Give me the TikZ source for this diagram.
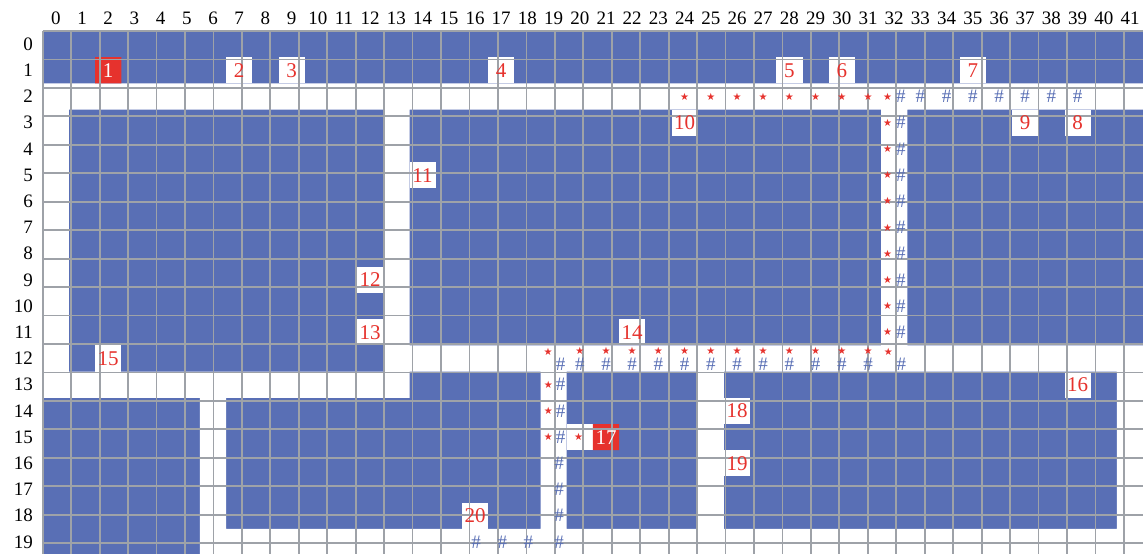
\documentclass[tikz,border=0pt]{standalone}
\usepackage{fontspec}
\setmainfont{Liberation Serif}
\newfontfamily\symfont{DejaVu Sans}
\definecolor{cellblue}{RGB}{89,111,181}
\definecolor{cellred}{RGB}{230,50,45}
\definecolor{gridgray}{RGB}{158,162,168}
\begin{document}
\begin{tikzpicture}[x=26.2pt,y=-26.2pt,
  hdr/.style={font=\fontsize{19}{20}\selectfont, text=black, inner sep=0pt},
  num/.style={font=\fontsize{21}{22}\selectfont, text=cellred, inner sep=0pt},
  rnum/.style={font=\fontsize{21}{22}\selectfont, text=white, inner sep=0pt},
  starmark/.style={font=\symfont\fontsize{10}{10}\selectfont, text=cellred, inner sep=0pt},
  hashmark/.style={font=\fontsize{19}{20}\selectfont, text=cellblue, inner sep=0pt},
  gridline/.style={draw=gridgray, line width=1.8pt}
]
\useasboundingbox (-1.6298,-1.1832) rectangle (42.187,19.924);
\fill[white] (-1.6298,-1.1832) rectangle (42.187,19.924);
% blue base
\fill[cellblue] (0,0) rectangle (42,20);
% white (free) cells
\fill[white]
  (0,2) rectangle (42,3)
  (0,3) rectangle (1,14)
  (13,3) rectangle (14,14)
  (32,3) rectangle (33,12)
  (13,12) rectangle (42,13)
  (0,13) rectangle (14,14)
  (19,13) rectangle (20,20)
  (25,13) rectangle (26,20)
  (41,12) rectangle (42,20)
  (6,14) rectangle (7,20)
  (6,19) rectangle (42,20);
\foreach \c/\r in {7/1,9/1,17/1,28/1,30/1,35/1,39/3,37/3,24/3,14/5,12/9,12/11,22/11,2/12,39/13,26/14,26/16,16/18,20/15}
  \fill[white] (\c,\r) rectangle ++(1,1);
% red cells
\fill[cellred] (2,1) rectangle ++(1,1) (21,15) rectangle ++(1,1);
% grid
\draw[gridline] (0,0) grid (42,20);
% headers
\foreach \c in {0,...,41}
  \node[hdr] (col\c) at (\c+0.5,-0.477) {\c};
\foreach \r in {0,...,19}
  \node[hdr, anchor=east] (row\r) at (-0.37,\r+0.5) {\r};
% numbered cells
\foreach \c/\r/\t in {7/1/2,9/1/3,17/1/4,28/1/5,30/1/6,35/1/7,39/3/8,37/3/9,24/3/10,14/5/11,12/9/12,12/11/13,22/11/14,2/12/15,39/13/16,26/14/18,26/16/19,16/18/20}
  \node[num] (n\t) at (\c+0.5,\r+0.5) {\t};
\node[rnum] (n1) at (2.5,1.5) {1};
\node[rnum] (n17) at (21.5,15.5) {17};
% row 2 marks
\foreach \c in {24,...,31}
  \node[starmark] (sa\c) at (\c+0.5,2.5) {★};
\foreach \c in {33,...,39}
  \node[hashmark] (ha\c) at (\c+0.5,2.5) {\#};
% column 32 rows 2..11
\foreach \r in {2,...,11}{
  \node[starmark] (sb\r) at (32.25,\r+0.5) {★};
  \node[hashmark] (hb\r) at (32.75,\r+0.5) {\#};
}
% row 12
\node[starmark] (sc19) at (19.29,12.23) {★};
\node[hashmark] (hc19) at (19.77,12.71) {\#};
\foreach \c in {20,...,31}{
  \node[starmark] (sc\c) at (\c+0.5,12.22) {★};
  \node[hashmark] (hc\c) at (\c+0.5,12.71) {\#};
}
\node[starmark] (sc32) at (32.28,12.24) {★};
\node[hashmark] (hc32) at (32.77,12.71) {\#};
% column 19 rows 13..19
\foreach \r in {13,14,15}{
  \node[starmark] (sd\r) at (19.3,\r+0.5) {★};
  \node[hashmark] (hd\r) at (19.77,\r+0.5) {\#};
}
\foreach \r in {16,...,19}
  \node[hashmark] (hd\r) at (19.71,\r+0.5) {\#};
\node[starmark] (se20) at (20.45,15.5) {★};
% row 19
\foreach \c in {16,17,18}
  \node[hashmark] (hf\c) at (\c+0.54,19.5) {\#};
\end{tikzpicture}
\end{document}
